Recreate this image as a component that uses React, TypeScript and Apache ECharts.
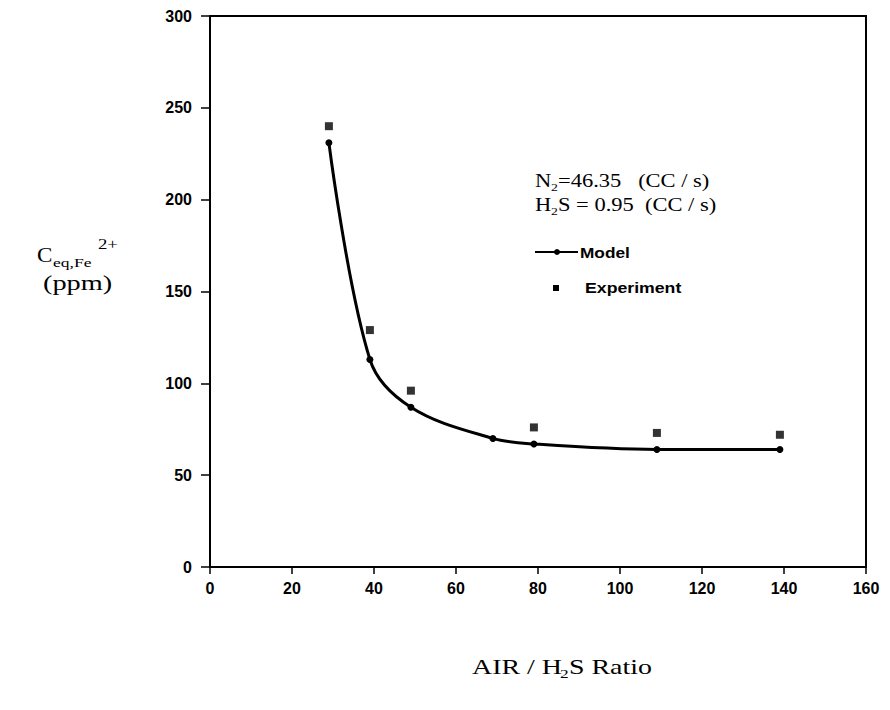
import React, { useEffect, useRef } from "react";
import * as echarts from "echarts";

const modelX = [29, 39, 49, 69, 79, 109, 139];
const modelY = [231, 113, 87, 70, 67, 64, 64];
const expX = [29, 39, 49, 79, 109, 139];
const expY = [240, 129, 96, 76, 73, 72];
const xTicks = [0, 20, 40, 60, 80, 100, 120, 140, 160];
const yTicks = [0, 50, 100, 150, 200, 250, 300];

const serif = "'Liberation Serif', 'DejaVu Serif', serif";
const sans = "'Liberation Sans', Arial, sans-serif";

export default function App() {
  const ref = useRef<HTMLDivElement>(null);
  useEffect(() => {
    if (!ref.current) return;
    const chart = echarts.init(ref.current, undefined, { renderer: "svg" });
    const txt = (x: number, y: number, text: string, size: number, sx = 1, font = serif, weight: any = "normal") => ({
      type: "text",
      x,
      y,
      scaleX: sx,
      style: { text, fontSize: size, fontFamily: font, fontWeight: weight, fill: "#000", textVerticalAlign: "middle" },
    });
    chart.setOption({
      animation: false,
      backgroundColor: "#fff",
      grid: { left: 210, right: 24, top: 16, bottom: 143, show: true, borderColor: "#000", borderWidth: 2 },
      xAxis: {
        type: "value",
        min: xTicks[0],
        max: xTicks[xTicks.length - 1],
        interval: 20,
        axisLine: { show: true, lineStyle: { color: "#000", width: 2 } },
        axisTick: { show: true, inside: false, length: 7, lineStyle: { color: "#000", width: 1.5 } },
        axisLabel: { color: "#000", fontSize: 16, fontFamily: sans, fontWeight: "bold", margin: 13 },
        splitLine: { show: false },
      },
      yAxis: {
        type: "value",
        min: yTicks[0],
        max: yTicks[yTicks.length - 1],
        interval: 50,
        axisLine: { show: true, lineStyle: { color: "#000", width: 2 } },
        axisTick: { show: true, inside: false, length: 9, lineStyle: { color: "#000", width: 1.5 } },
        axisLabel: { color: "#000", fontSize: 16, fontFamily: sans, fontWeight: "bold", margin: 18 },
        splitLine: { show: false },
      },
      series: [
        {
          name: "Model",
          type: "line",
          data: modelX.map((x, i) => [x, modelY[i]]),
          smooth: 0.35,
          symbol: "circle",
          symbolSize: 7,
          itemStyle: { color: "#000" },
          lineStyle: { color: "#000", width: 3 },
        },
        {
          name: "Experiment",
          type: "scatter",
          data: expX.map((x, i) => [x, expY[i]]),
          symbol: "rect",
          symbolSize: 8,
          itemStyle: { color: "#000" },
        },
      ],
      graphic: [
        // annotation
        txt(535, 181, "N", 18, 1.25),
        txt(551, 187, "2", 11, 1.25),
        txt(558, 181, "=46.35   (CC / s)", 18, 1.25),
        txt(535, 205, "H", 18, 1.25),
        txt(551, 211, "2", 11, 1.25),
        txt(558, 205, "S = 0.95  (CC / s)", 18, 1.25),
        // legend
        { type: "line", shape: { x1: 535, y1: 252, x2: 578, y2: 252 }, style: { stroke: "#000", lineWidth: 2 } },
        { type: "circle", shape: { cx: 557, cy: 252, r: 3 }, style: { fill: "#000" } },
        txt(580, 252, "Model", 15, 1.15, sans, "bold"),
        { type: "rect", shape: { x: 553, y: 285, width: 6, height: 6 }, style: { fill: "#000" } },
        txt(585, 288, "Experiment", 15, 1.18, sans, "bold"),
        // y axis label
        txt(37, 255, "C", 21, 1.1),
        txt(53, 262, "eq,Fe", 13, 1.35),
        txt(98, 244, "2+", 15, 1.25),
        txt(43, 283, "(ppm)", 21, 1.35),
        // x axis label
        txt(472, 667, "AIR / H", 21, 1.33),
        txt(560, 673, "2", 13, 1.33),
        txt(569, 667, "S Ratio", 21, 1.33),
      ],
    });
    return () => chart.dispose();
  }, []);
  return <div ref={ref} style={{ position: "fixed", left: 0, top: 0, width: 890, height: 710 }} />;
}
